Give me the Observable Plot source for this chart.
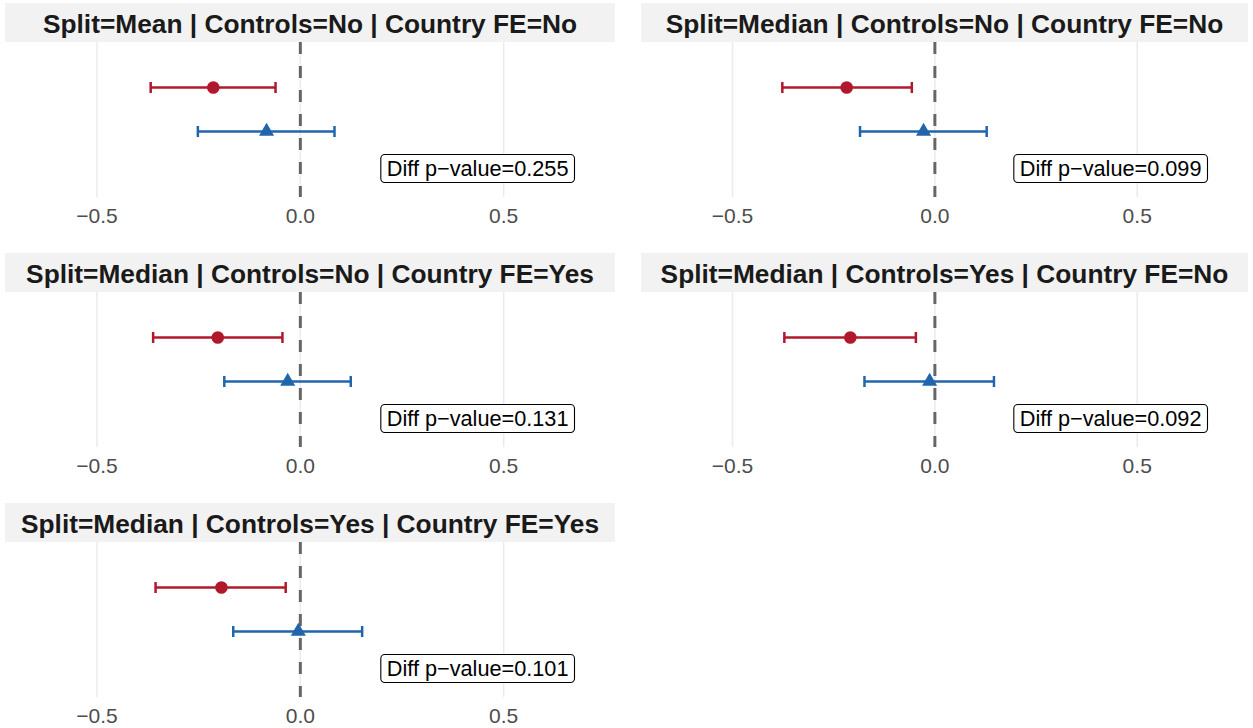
<!DOCTYPE html>
<html><head><meta charset="utf-8">
<script src="https://cdn.jsdelivr.net/npm/d3@7"></script>
<script src="https://cdn.jsdelivr.net/npm/@observablehq/plot@0.6"></script>
<style>
body{margin:0;background:#fff;font-family:"Liberation Sans",Arial,sans-serif;}
#grid{display:grid;grid-template-columns:610px 607px;column-gap:26px;padding:3px 0 0 5px;width:1253px;box-sizing:border-box;}
.strip{height:39px;box-sizing:border-box;padding-top:3px;background:#F2F2F2;display:flex;align-items:center;justify-content:center;font-weight:bold;font-size:26.3px;color:#1A1A1A;white-space:nowrap;}
.cell svg{display:block;overflow:visible;}
</style></head><body><div id="grid"></div>
<script>
// ---- data ----
const panelTitles = [
  "Split=Mean | Controls=No | Country FE=No",
  "Split=Median | Controls=No | Country FE=No",
  "Split=Median | Controls=No | Country FE=Yes",
  "Split=Median | Controls=Yes | Country FE=No",
  "Split=Median | Controls=Yes | Country FE=Yes"
];
const groups = ["Group 1", "Group 2"]; // red (top), blue (bottom)
const group1Est = [-0.214, -0.218, -0.203, -0.209, -0.194];
const group1Lo  = [-0.368, -0.377, -0.362, -0.372, -0.356];
const group1Hi  = [-0.061, -0.057, -0.044, -0.047, -0.036];
const group2Est = [-0.083, -0.028, -0.031, -0.013, -0.005];
const group2Lo  = [-0.252, -0.185, -0.187, -0.174, -0.165];
const group2Hi  = [ 0.084,  0.128,  0.124,  0.146,  0.152];
const diffP = ["0.255", "0.099", "0.131", "0.092", "0.101"];
const xTicks = [-0.5, 0, 0.5];
const xDomain = [-0.725, 0.775];
const groupColors = ["#B2182B", "#2166AC"];
const groupSymbols = ["circle", "triangle"];

const capSymbol = {draw(ctx, size){ const r = Math.sqrt(size/Math.PI); ctx.moveTo(0,-r); ctx.lineTo(0,r); }};

const grid = document.getElementById("grid");
panelTitles.forEach((title, i) => {
  const rows = [
    {group: groups[0], est: group1Est[i], lo: group1Lo[i], hi: group1Hi[i]},
    {group: groups[1], est: group2Est[i], lo: group2Lo[i], hi: group2Hi[i]}
  ];
  const cell = document.createElement("div");
  cell.className = "cell";
  const strip = document.createElement("div");
  strip.className = "strip";
  strip.textContent = title;
  cell.appendChild(strip);
  const w = (i % 2 === 0) ? 610 : 607;
  const chart = Plot.plot({
    width: w, height: 211,
    marginTop: 0, marginBottom: 56, marginLeft: 0, marginRight: 0,
    insetBottom: 21,
    style: {fontFamily: '"Liberation Sans", Arial, sans-serif', background: "transparent"},
    x: {domain: xDomain, ticks: xTicks},
    y: {type: "point", domain: groups, padding: 1.02, axis: null},
    color: {domain: groups, range: groupColors},
    symbol: {domain: groups, range: groupSymbols},
    marks: [
      Plot.gridX(xTicks, {stroke: "#EBEBEB", strokeOpacity: 1, strokeWidth: 1.5}),
      Plot.ruleX([0], {stroke: "#666666", strokeWidth: 3, strokeDasharray: "12,12"}),
      Plot.axisX(xTicks, {tickSize: 0, tickPadding: 11, fontSize: 21, fill: "#4D4D4D", tickFormat: d3.format(".1f")}),
      Plot.link(rows, {x1: "lo", x2: "hi", y1: "group", y2: "group", stroke: "group", strokeWidth: 2.5}),
      Plot.dot(rows, {x: "lo", y: "group", symbol: capSymbol, r: 5.5, stroke: "group", strokeWidth: 2.5, fill: "none"}),
      Plot.dot(rows, {x: "hi", y: "group", symbol: capSymbol, r: 5.5, stroke: "group", strokeWidth: 2.5, fill: "none"}),
      Plot.dot(rows.filter(d => d.group === groups[0]), {x: "est", y: "group", symbol: "circle", r: 6.3, fill: "group", stroke: "none"}),
      Plot.dot(rows.filter(d => d.group === groups[1]), {x: "est", y: "group", symbol: "triangle", r: 5.6, fill: "group", stroke: "none"}),
      Plot.text([`Diff p\u2212value=${diffP[i]}`], {text: d => d, frameAnchor: "bottom-right", dx: -47, dy: -28.5, textAnchor: "end", lineAnchor: "middle", fontSize: 21.7, fill: "#000", className: "pval"})
    ]
  });
  cell.appendChild(chart);
  grid.appendChild(cell);
  // label box (same local frame as the text)
  const t = chart.querySelector(".pval text");
  if (t) {
    const bb = t.getBBox();
    const rect = document.createElementNS("http://www.w3.org/2000/svg", "rect");
    rect.setAttribute("x", bb.x - 6);
    rect.setAttribute("y", bb.y - 1.5);
    rect.setAttribute("width", bb.width + 12);
    rect.setAttribute("height", bb.height + 3);
    rect.setAttribute("rx", 4);
    rect.setAttribute("fill", "#fff");
    rect.setAttribute("stroke", "#000");
    rect.setAttribute("stroke-width", 1.1);
    const tr = t.getAttribute("transform");
    if (tr) rect.setAttribute("transform", tr);
    t.parentNode.insertBefore(rect, t);
  }
});
</script></body></html>
